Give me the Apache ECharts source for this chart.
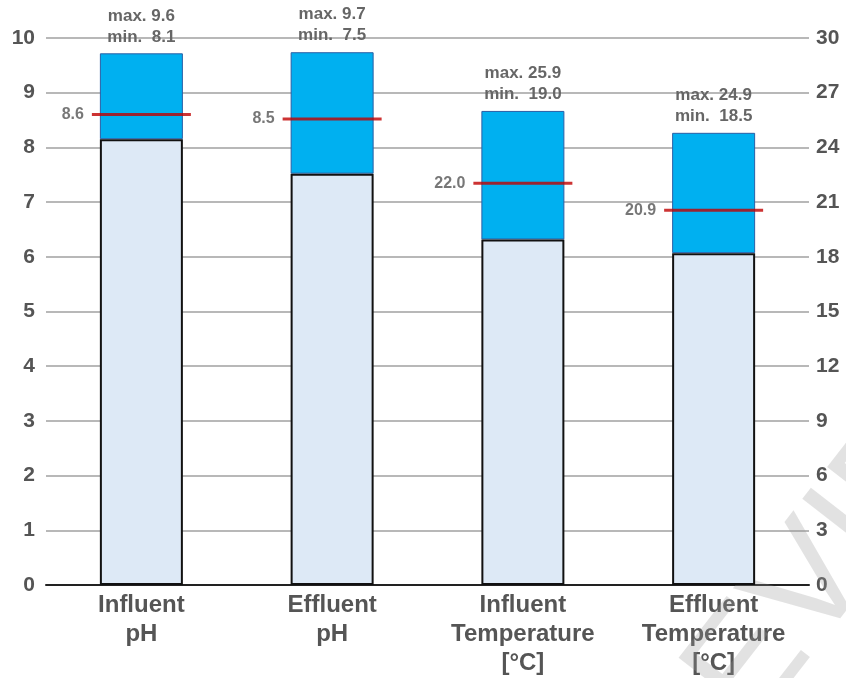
<!DOCTYPE html>
<html><head><meta charset="utf-8">
<script src="https://cdn.jsdelivr.net/npm/echarts@6/dist/echarts.min.js"></script>
<style>html,body{margin:0;padding:0;background:#fff}#c{width:846px;height:678px}</style>
</head><body><div id="c"></div>
<script>
var categories = ['Influent\npH', 'Effluent\npH', 'Influent\nTemperature\n[°C]', 'Effluent\nTemperature\n[°C]'];
// bar heights as drawn
var maxValues = [9.72, 9.74, 26.0, 24.8];
var minValues = [8.15, 7.52, 18.95, 18.2];
var meanValues = [8.6, 8.52, 22.03, 20.55];
// printed labels
var maxLabels = ['9.6', '9.7', '25.9', '24.9'];
var minLabels = ['8.1', '7.5', '19.0', '18.5'];
var meanLabels = ['8.6', '8.5', '22.0', '20.9'];
var axisIndex = [0, 0, 1, 1];
var leftTicks = [0, 10, 1];
var rightTicks = [0, 30, 3];

var FONT = 'Liberation Sans, Arial, sans-serif';
function pick(arr, ax, fn) {
  return arr.map(function (v, i) { return axisIndex[i] === ax ? (fn ? fn(i) : v) : '-'; });
}
var series = [];
[0, 1].forEach(function (ax) {
  series.push({
    type: 'bar', yAxisIndex: ax, stack: 's' + ax, barWidth: 83, barGap: '-100%',
    data: pick(minValues, ax),
    itemStyle: { color: '#dde9f6', borderColor: '#111', borderWidth: 2 },
    z: 3
  });
  series.push({
    type: 'bar', yAxisIndex: ax, stack: 's' + ax, barWidth: 83, barGap: '-100%',
    data: pick(maxValues, ax, function (i) { return +(maxValues[i] - minValues[i]).toFixed(3); }),
    itemStyle: { color: '#00b0f0', borderColor: '#2a5fa5', borderWidth: 1 },
    label: {
      show: true, position: 'top', distance: 6, color: '#666', fontSize: 17, fontWeight: 'bold',
      fontFamily: FONT, lineHeight: 21, align: 'center',
      formatter: function (p) {
        var i = p.dataIndex;
        return 'max. ' + maxLabels[i] + '\nmin.  ' + minLabels[i];
      }
    },
    z: 2
  });
  series.push({
    type: 'scatter', yAxisIndex: ax, data: pick(meanValues, ax),
    symbol: 'rect', symbolSize: [99, 3], itemStyle: { color: '#c00000' },
    label: {
      show: true, position: 'left', distance: 8, color: '#555', fontSize: 16, fontWeight: 'bold',
      fontFamily: FONT,
      formatter: function (p) { return meanLabels[p.dataIndex]; }
    },
    z: 5
  });
});

var chart = echarts.init(document.getElementById('c'));
chart.setOption({
  animation: false,
  grid: { left: 46, right: 37, top: 38, bottom: 93 },
  xAxis: {
    type: 'category', data: categories,
    axisLine: { lineStyle: { color: '#222', width: 2 } },
    axisTick: { show: false },
    axisLabel: { color: '#555', fontSize: 24, fontWeight: 'bold', fontFamily: FONT, lineHeight: 29, margin: 6, interval: 0 }
  },
  yAxis: [
    { type: 'value', min: leftTicks[0], max: leftTicks[1], interval: leftTicks[2],
      axisLine: { show: false }, axisTick: { show: false },
      splitLine: { lineStyle: { color: '#a0a0a0', width: 1.5 } },
      axisLabel: { color: '#555', fontSize: 21, fontWeight: 'bold', fontFamily: FONT, margin: 11 } },
    { type: 'value', min: rightTicks[0], max: rightTicks[1], interval: rightTicks[2], position: 'right',
      axisLine: { show: false }, axisTick: { show: false }, splitLine: { show: false },
      axisLabel: { color: '#555', fontSize: 21, fontWeight: 'bold', fontFamily: FONT, margin: 7 } }
  ],
  graphic: [{
    type: 'text', x: 592, y: 870, rotation: 0.91, z: 1, silent: true,
    style: { text: 'PREVIEW', font: '150px Liberation Sans, Arial, sans-serif',
      fill: 'rgba(150,150,150,0.28)', textAlign: 'left', textVerticalAlign: 'middle' }
  }],
  series: series
});
</script></body></html>
